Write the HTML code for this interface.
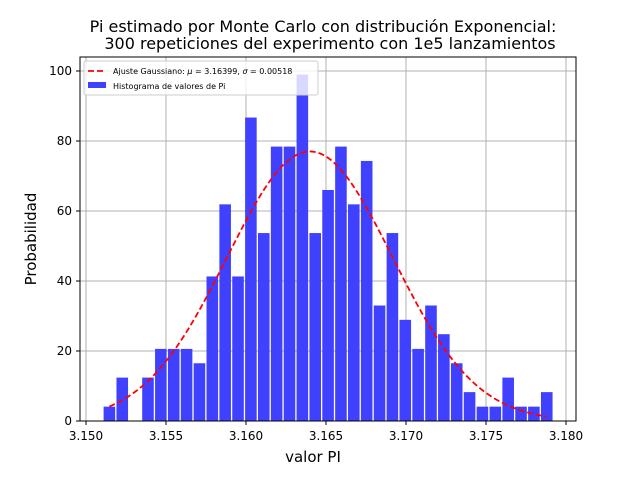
<!DOCTYPE html>
<html><head><meta charset="utf-8"><style>
html,body{margin:0;padding:0;background:#fff;}
svg text{font-family:"DejaVu Sans","Liberation Sans",sans-serif;}
</style></head><body>
<svg id="chart" width="640" height="473" xmlns="http://www.w3.org/2000/svg">
<text x="323" y="32" text-anchor="middle" font-size="16">Pi estimado por Monte Carlo con distribución Exponencial:</text>
<text x="330" y="49" text-anchor="middle" font-size="16">300 repeticiones del experimento con 1e5 lanzamientos</text>
<g id="grid"></g>
<g id="bars"></g>
<path id="fit" fill="none" stroke="#ff0000" stroke-width="1.8" stroke-dasharray="6,3"/>
<rect x="80" y="57" width="496" height="364" fill="none" stroke="#000" stroke-width="1"/>
<g id="ticks"></g>
<text x="313" y="462" text-anchor="middle" font-size="15">valor PI</text>
<text transform="translate(36,239) rotate(-90)" text-anchor="middle" font-size="15">Probabilidad</text>
<g>
<rect x="84" y="61" width="234" height="34" rx="2" fill="#fff" fill-opacity="0.8" stroke="#ccc"/>
<line x1="88" y1="71" x2="106" y2="71" stroke="#ff0000" stroke-width="1.8" stroke-dasharray="6,3"/>
<text x="113" y="74" font-size="8">Ajuste Gaussiano: <tspan font-style="italic">μ</tspan> = 3.16399,  <tspan font-style="italic">σ</tspan> = 0.00518</text>
<rect x="88" y="82" width="18" height="6" fill="#4040ff"/>
<text x="113" y="89" font-size="8">Histograma de valores de Pi</text>
</g>
</svg>
<script>
const binStart = 3.15106;
const binWidth = 0.000804;
const counts = [4.1,12.4,0,12.4,20.6,20.6,20.6,16.5,41.3,61.9,41.3,86.7,53.7,78.4,78.4,99,53.7,66,78.4,61.9,74.3,33,53.7,28.9,20.6,33,24.8,16.5,8.25,4.1,4.1,12.4,4.1,4.1,8.25];
const mu = 3.16399;
const sigma = 0.00518;
const xTicks = [3.150,3.155,3.160,3.165,3.170,3.175,3.180];
const yTicks = [0,20,40,60,80,100];
const NS="http://www.w3.org/2000/svg";
const X=v=>86+(v-3.150)*16000;
const Y=v=>421-v*3.5;
const grid=document.getElementById('grid'),bars=document.getElementById('bars'),ticks=document.getElementById('ticks');
function mk(tag,attrs,parent){const e=document.createElementNS(NS,tag);for(const k in attrs)e.setAttribute(k,attrs[k]);parent.appendChild(e);return e;}
xTicks.forEach(t=>{
 const g=mk('line',{x1:X(t),x2:X(t),y1:57,y2:421,stroke:'#b0b0b0','stroke-width':1},grid);
 
 
 const tk=mk('line',{x1:X(t),x2:X(t),y1:421,y2:425,stroke:'#000'},ticks);
 
 
 const tx=mk('text',{x:X(t),y:440,'text-anchor':'middle','font-size':12},ticks);
 tx.textContent=t.toFixed(3);
 
 
});
yTicks.forEach(t=>{
 const g=mk('line',{x1:80,x2:576,y1:Y(t),y2:Y(t),stroke:'#b0b0b0','stroke-width':1},grid);
 
 
 const tk=mk('line',{x1:76,x2:80,y1:Y(t),y2:Y(t),stroke:'#000'},ticks);
 
 
 const tx=mk('text',{x:72,y:Y(t)+4,'text-anchor':'end','font-size':12},ticks);
 tx.textContent=t;
 
 
});
counts.forEach((c,i)=>{
 if(c<=0)return;
 const x0=X(binStart+i*binWidth), w=binWidth*16000;
 const r=mk('rect',{x:x0+w*0.05,y:Y(c),width:w*0.9,height:Y(0)-Y(c),fill:'#4040ff'},bars);
 
 
});
let d='';const x1=binStart+binWidth*0.5,x2=binStart+binWidth*(counts.length-0.5);
for(let i=0;i<=200;i++){const v=x1+(x2-x1)*i/200;const p=Math.exp(-0.5*((v-mu)/sigma)**2)/(sigma*Math.sqrt(2*Math.PI));d+=(i?'L':'M')+X(v).toFixed(2)+','+Y(p).toFixed(2);}
document.getElementById('fit').setAttribute('d',d);
</script>
</body></html>
